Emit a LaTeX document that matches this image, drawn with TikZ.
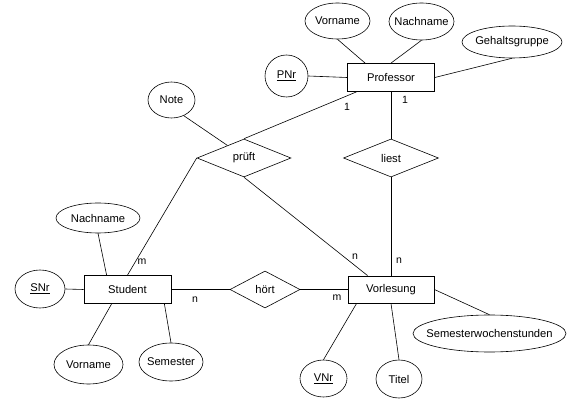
\documentclass[tikz,border=0pt]{standalone}
\usepackage{fontspec}
\setmainfont{Liberation Sans}
\usetikzlibrary{shapes.geometric,calc}
\tikzset{
  entity/.style={draw, rectangle, inner sep=0pt, minimum width=87pt, minimum height=28pt, line width=0.8pt},
  attrib/.style={draw, ellipse, inner sep=0pt, line width=0.6pt,
    execute at begin node={\hbox to 0pt\bgroup\hss},
    execute at end node={\hss\egroup}},
  relation/.style={draw, diamond, aspect=2.5, inner sep=0pt, line width=0.6pt},
  conn/.style={draw, line width=0.6pt},
  card/.style={inner sep=0pt, font=\fontsize{10.5}{12}\selectfont}
}
\begin{document}
\begin{tikzpicture}[x=1pt, y=-1pt, font=\fontsize{11.2}{13}\selectfont]
\path[use as bounding box, fill=white] (0,0) rectangle (568,406);
% entities
\node[entity] (Professor) at (391,77.5) {Professor};
\node[entity] (Student) at (127.5,289.5) {Student};
\node[entity, minimum width=86pt, minimum height=27pt] (Vorlesung) at (391,289.5) {Vorlesung};
% relationships
\node[relation, minimum width=94pt, minimum height=38pt] (pruft) at (244,158) {prüft};
\node[relation, minimum width=95pt, minimum height=38pt] (liest) at (391,158) {liest};
\node[relation, minimum width=70pt, minimum height=37pt] (hort) at (265,289.5) {hört};
% attributes
\node[attrib, minimum width=65pt, minimum height=36pt] (VornameP) at (337.5,21) {Vorname};
\node[attrib, minimum width=65pt, minimum height=37pt] (NachnameP) at (421.5,21.5) {Nachname};
\node[attrib, minimum width=100pt, minimum height=32pt] (Gehalt) at (512,42) {Gehaltsgruppe};
\node[attrib, minimum width=43pt, minimum height=42pt] (PNr) at (286.5,76) {\underline{PNr}};
\node[attrib, minimum width=47pt, minimum height=36pt] (Note) at (171.5,100) {Note};
\node[attrib, minimum width=84pt, minimum height=30pt] (NachnameS) at (98,218) {Nachname};
\node[attrib, minimum width=50pt, minimum height=38pt] (SNr) at (40,289) {\underline{SNr}};
\node[attrib, minimum width=69pt, minimum height=39pt] (VornameS) at (88.5,364.5) {Vorname};
\node[attrib, minimum width=64pt, minimum height=38pt] (Semester) at (171,362) {Semester};
\node[attrib, minimum width=153pt, minimum height=37pt] (SWS) at (489.5,333.5) {Semesterwochenstunden};
\node[attrib, minimum width=47pt, minimum height=37pt] (VNr) at (323.5,378.5) {\underline{VNr}};
\node[attrib, minimum width=46pt, minimum height=38pt] (Titel) at (399,379) {Titel};
% connectors
\path[conn] (VornameP.south) -- ([xshift=18pt]Professor.north west);
\path[conn] (NachnameP.south) -- (Professor.north);
\path[conn] (Gehalt.south) -- (Professor.east);
\path[conn] (PNr.east) -- (Professor.west);
\path[conn] (Note.-52) -- ($(pruft.north west)!0.3!(pruft.north)$);
\path[conn] (Professor) -- (pruft.north);
\path[conn] (Professor) -- (liest);
\path[conn] (liest) -- (Vorlesung);
\path[conn] (pruft.west) -- (Student.north);
\path[conn] (pruft.south) -- ([xshift=20pt]Vorlesung.north west);
\path[conn] (Student) -- (hort);
\path[conn] (hort) -- (Vorlesung);
\path[conn] (NachnameS.south) -- ([xshift=23pt]Student.north west);
\path[conn] (SNr.east) -- (Student.west);
\path[conn] (VornameS.north) -- ([xshift=28pt]Student.south west);
\path[conn] (Semester.north) -- ([xshift=-7pt]Student.south east);
\path[conn] (Vorlesung.east) -- (SWS.north);
\path[conn] (VNr.north) -- ([xshift=9pt]Vorlesung.south west);
\path[conn] (Vorlesung.south) -- (Titel.north);
% cardinalities
\node[card] (c1) at (347,107) {1};
\node[card] (c2) at (405,100) {1};
\node[card] (c3) at (355,257) {n};
\node[card] (c4) at (399,261) {n};
\node[card] (c5) at (142,262) {m};
\node[card] (c6) at (195,300) {n};
\node[card] (c7) at (337,298) {m};
\end{tikzpicture}
\end{document}
